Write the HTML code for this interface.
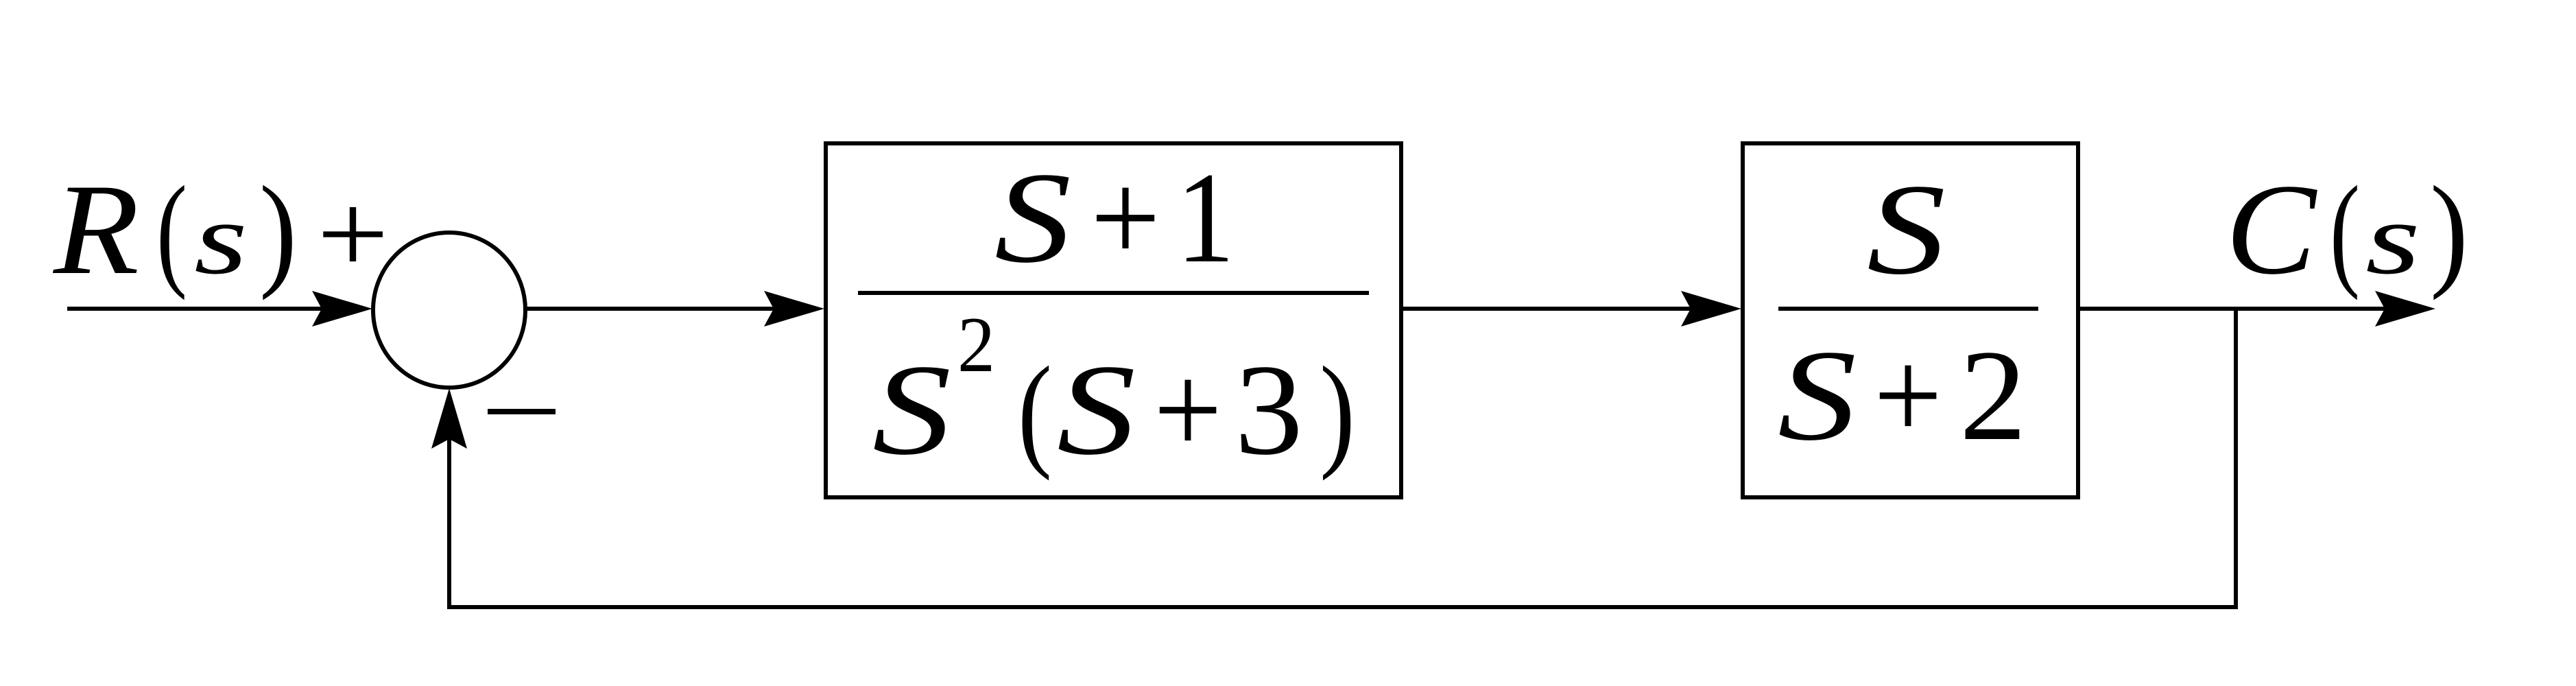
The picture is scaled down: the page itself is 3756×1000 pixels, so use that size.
<!DOCTYPE html>
<html><head><meta charset="utf-8"><style>html,body{margin:0;padding:0;background:#fff}svg{display:block}</style></head>
<body>
<svg width="3756" height="1000" viewBox="0 0 3756 1000" xmlns="http://www.w3.org/2000/svg">
<defs>
<path id="ah" d="M0,0 L-88,-26 L-74,0 L-88,26 Z" fill="#000"/>
</defs>
<g stroke="#000" stroke-width="6" fill="none">
<line x1="98" y1="450" x2="520" y2="450"/>
<ellipse cx="655" cy="452" rx="111" ry="113"/>
<line x1="766" y1="450" x2="1180" y2="450"/>
<rect x="1204" y="209" width="839" height="516"/>
<line x1="2043" y1="450" x2="2515" y2="450"/>
<rect x="2541" y="209" width="489" height="516"/>
<line x1="3030" y1="450" x2="3530" y2="450"/>
<polyline points="3260,450 3260,885 655,885 655,590"/>
<line x1="1251" y1="427" x2="1996" y2="427"/>
<line x1="2593" y1="450" x2="2972" y2="450"/>
</g>
<use href="#ah" transform="translate(543,450)"/>
<use href="#ah" transform="translate(1202,450)"/>
<use href="#ah" transform="translate(2539,450)"/>
<use href="#ah" transform="translate(3551,450)"/>
<use href="#ah" transform="translate(655,566) rotate(-90)"/>
<rect x="711" y="596" width="99" height="8" fill="#000"/>
<g font-family="'Liberation Serif', serif" fill="#000" font-size="190" lengthAdjust="spacingAndGlyphs">
<text x="78" y="398" font-style="italic" textLength="125" lengthAdjust="spacingAndGlyphs">R</text>
<text x="228" y="398" font-size="185" textLength="45" lengthAdjust="spacingAndGlyphs">(</text>
<text x="283" y="398" font-style="italic" font-size="150" textLength="78" lengthAdjust="spacingAndGlyphs">s</text>
<text x="378" y="398" font-size="185" textLength="55" lengthAdjust="spacingAndGlyphs">)</text>
<text x="462" y="398" font-size="170" textLength="105" lengthAdjust="spacingAndGlyphs">+</text>

<text x="1450" y="381" font-style="italic" textLength="112" lengthAdjust="spacingAndGlyphs">S</text>
<text x="1590" y="381" textLength="102" lengthAdjust="spacingAndGlyphs">+</text>
<text x="1715" y="381" textLength="85" lengthAdjust="spacingAndGlyphs">1</text>

<text x="1272" y="661" font-style="italic" textLength="115" lengthAdjust="spacingAndGlyphs">S</text>
<text x="1396" y="541" font-size="115" textLength="55" lengthAdjust="spacingAndGlyphs">2</text>
<text x="1484" y="661" font-size="185" textLength="50" lengthAdjust="spacingAndGlyphs">(</text>
<text x="1541" y="661" font-style="italic" textLength="115" lengthAdjust="spacingAndGlyphs">S</text>
<text x="1682" y="661" textLength="100" lengthAdjust="spacingAndGlyphs">+</text>
<text x="1800" y="661" textLength="100" lengthAdjust="spacingAndGlyphs">3</text>
<text x="1924" y="661" font-size="185" textLength="52" lengthAdjust="spacingAndGlyphs">)</text>

<text x="2722" y="398" font-style="italic" textLength="115" lengthAdjust="spacingAndGlyphs">S</text>
<text x="2592" y="640" font-style="italic" textLength="115" lengthAdjust="spacingAndGlyphs">S</text>
<text x="2732" y="640" textLength="100" lengthAdjust="spacingAndGlyphs">+</text>
<text x="2857" y="640" textLength="98" lengthAdjust="spacingAndGlyphs">2</text>

<text x="3245" y="398" font-style="italic" textLength="132" lengthAdjust="spacingAndGlyphs">C</text>
<text x="3397" y="398" font-size="185" textLength="44" lengthAdjust="spacingAndGlyphs">(</text>
<text x="3449" y="398" font-style="italic" font-size="150" textLength="80" lengthAdjust="spacingAndGlyphs">s</text>
<text x="3543" y="398" font-size="185" textLength="56" lengthAdjust="spacingAndGlyphs">)</text>
</g>
</svg>
</body></html>
